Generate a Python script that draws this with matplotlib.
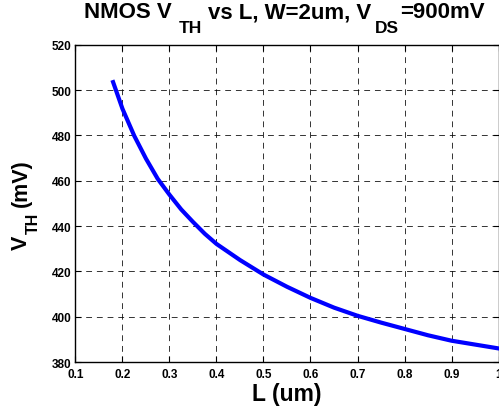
import matplotlib
matplotlib.use("Agg")
import matplotlib.pyplot as plt

L_um = [0.18, 0.2, 0.225, 0.25, 0.275, 0.3, 0.325, 0.35, 0.375, 0.4, 0.45, 0.5,
        0.55, 0.6, 0.65, 0.7, 0.75, 0.8, 0.85, 0.9, 0.95, 1.0]
vth_mV = [503.5, 491.7, 479.8, 469.7, 460.8, 453.8, 447.3, 441.8, 436.6, 432.1, 425.0, 418.6,
          413.2, 408.3, 404.0, 400.4, 397.4, 394.6, 391.8, 389.4, 387.7, 386.0]
xticks = [0.1, 0.2, 0.3, 0.4, 0.5, 0.6, 0.7, 0.8, 0.9, 1.0]
xtick_labels = ["0.1", "0.2", "0.3", "0.4", "0.5", "0.6", "0.7", "0.8", "0.9", "1"]
yticks = [380, 400, 420, 440, 460, 480, 500, 520]

title_parts = ["NMOS V", "TH", "vs L, W=2um, V", "DS", "=900mV"]
ylabel_parts = ["V", "TH", "(mV)"]
xlabel_text = "L (um)"

plt.rcParams['font.family'] = ['Liberation Sans', 'DejaVu Sans']

W_PX, H_PX = 499, 410
fig = plt.figure(figsize=(W_PX / 100, H_PX / 100), dpi=100)
ax = fig.add_axes([0.1513, 0.1146, 0.8477, 0.7739])

ax.plot(L_um, vth_mV, color='#0000ff', linewidth=3.0, zorder=3)

ax.set_xlim(0.1, 1.0)
ax.set_ylim(380, 520)
ax.set_xticks(xticks)
ax.set_xticklabels(xtick_labels)
ax.set_yticks(yticks)
ax.tick_params(direction='in', length=4, width=0.8, top=True, right=True,
               labelsize=8.5)
ax.tick_params(axis='x', pad=4)
ax.tick_params(axis='y', pad=3)
for lab in ax.get_xticklabels() + ax.get_yticklabels():
    lab.set_fontweight('bold')

ax.grid(True, color='k', linestyle=(0, (6, 5)), linewidth=0.7, alpha=0.8)
for sp in ax.spines.values():
    sp.set_linewidth(1.0)

renderer = fig.canvas.get_renderer()


def px2fig(x, y_top):
    return x / W_PX, 1 - y_top / H_PX


def place_parts(parts, sizes, offsets, gaps, center, baseline, rotation=0):
    """Lay out text parts one after the other (with sub-script offsets).
    center: pixel coordinate (along the text direction) of the centre.
    baseline: pixel coordinate of the main baseline (across the text direction)."""
    texts = []
    lengths = []
    for s, size in zip(parts, sizes):
        t = fig.text(0, 0, s, fontsize=size, fontweight='bold', ha='left',
                     va='baseline', rotation=rotation, rotation_mode='anchor')
        bb = t.get_window_extent(renderer)
        lengths.append(bb.width if rotation == 0 else bb.height)
        texts.append(t)
    total = sum(lengths) + sum(gaps)
    pos = center - total / 2
    for t, ln, off, gap in zip(texts, lengths, offsets, gaps):
        pos += gap
        if rotation == 0:
            t.set_position(px2fig(pos, baseline + off))
        else:
            # text runs bottom -> top; 'pos' measured upward (pixels from bottom)
            t.set_position(px2fig(baseline + off, H_PX - pos))
        pos += ln
    return texts


# Title
place_parts(title_parts, [16, 12.5, 16, 12.5, 16], [0, 14.5, 0, 14.5, 0],
            [0, 7, 6, 4, 1], center=284.5, baseline=18.5)

# Y label (rotated)
place_parts(ylabel_parts, [15.5, 11.5, 15.5], [0, 11, 0], [0, 1, 6],
            center=H_PX - 204.5, baseline=27, rotation=90)

# X label
fig.text(286.7 / W_PX, 1 - 401.5 / H_PX, xlabel_text, fontsize=16.5,
         fontweight='bold', ha='center', va='baseline')

fig.savefig('out.png', dpi=100)
